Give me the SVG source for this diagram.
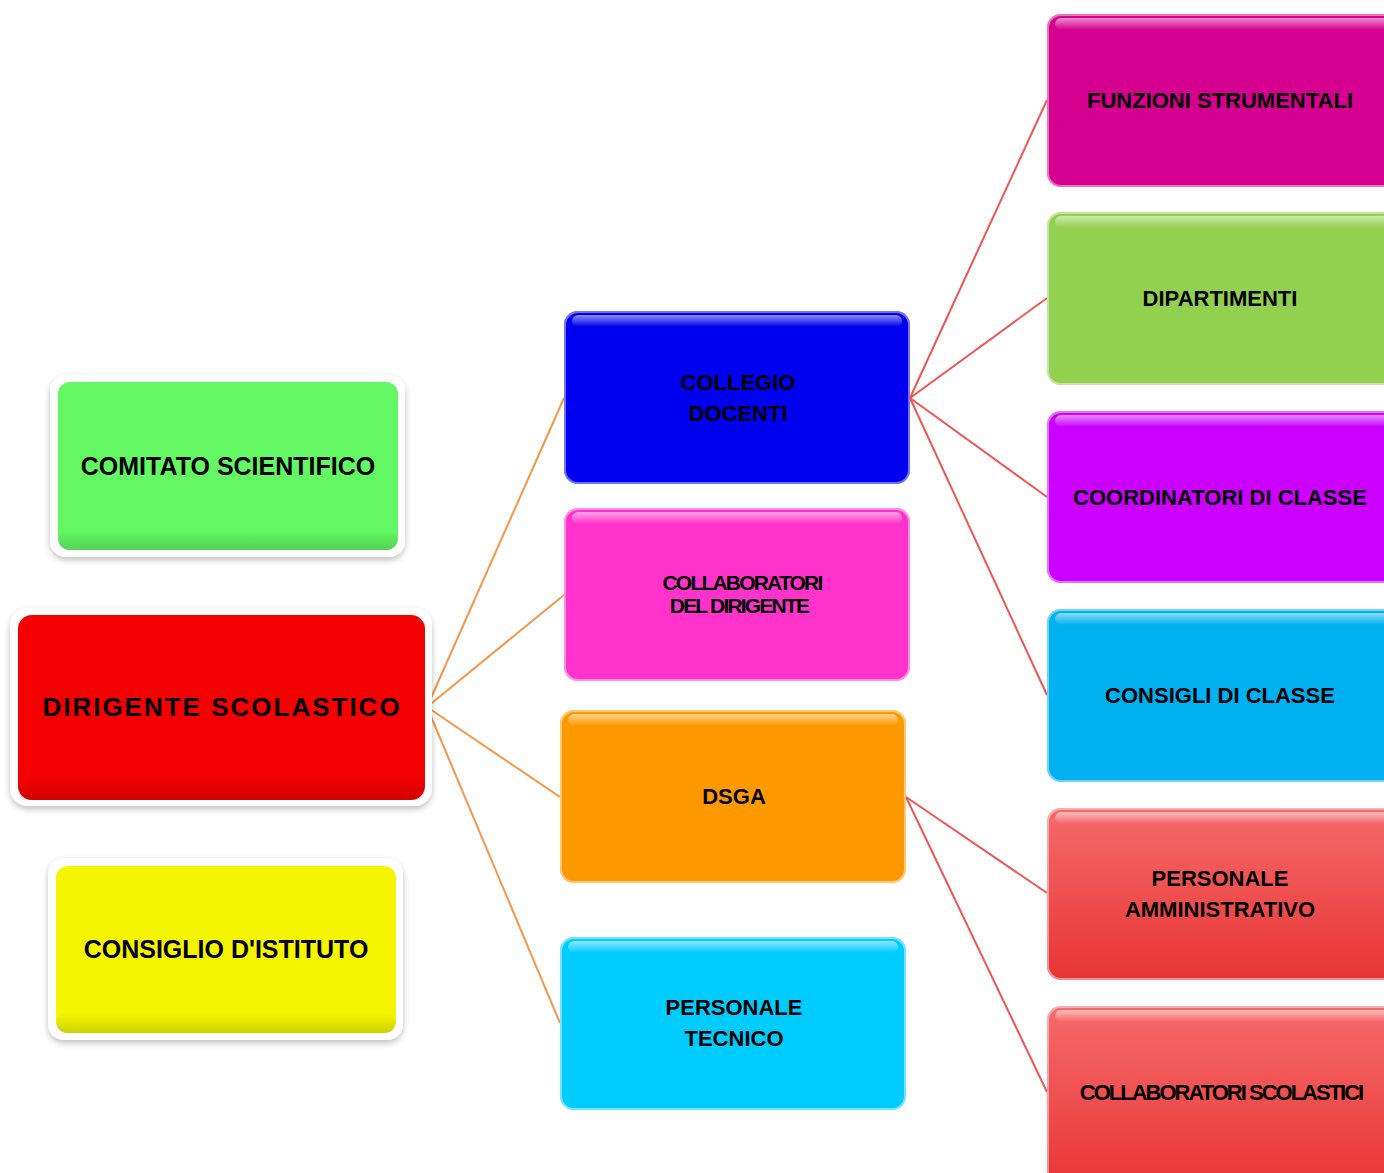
<svg xmlns="http://www.w3.org/2000/svg" width="1384" height="1173" viewBox="0 0 1384 1173">
<defs>
<filter id="sh" x="-10%" y="-10%" width="120%" height="125%"><feDropShadow dx="0" dy="3" stdDeviation="3" flood-color="#000" flood-opacity="0.25"/></filter>
<linearGradient id="gloss" x1="0" y1="0" x2="0" y2="1">
<stop offset="0" stop-color="#fff" stop-opacity="0.55"/>
<stop offset="1" stop-color="#fff" stop-opacity="0"/>
</linearGradient>
<linearGradient id="bot" x1="0" y1="0" x2="0" y2="1">
<stop offset="0" stop-color="#000" stop-opacity="0"/>
<stop offset="1" stop-color="#000" stop-opacity="0.25"/>
</linearGradient>
<linearGradient id="redg" x1="0" y1="0" x2="0" y2="1">
<stop offset="0" stop-color="#F66A6A"/>
<stop offset="1" stop-color="#E83535"/>
</linearGradient>
</defs>
<style>
text{font-family:"Liberation Sans",Arial,sans-serif;font-weight:bold;fill:#000;text-anchor:middle}
.t20{font-size:22px}
.t23{font-size:25px}
.frame{fill:#fff;filter:url(#sh)}
.hl{fill:url(#gloss)}
.edge{fill:none;stroke:#fff;stroke-opacity:0.45;stroke-width:2}
.c1{stroke:#F79646;stroke-width:2;fill:none}
.c2{stroke:#F05555;stroke-width:2;fill:none}
</style>
<rect width="1384" height="1173" fill="#fff"/>

<g id="connectors">
<line class="c1" x1="427" y1="707" x2="564" y2="398"/>
<line class="c1" x1="427" y1="707" x2="564" y2="595"/>
<line class="c1" x1="427" y1="707" x2="560" y2="797"/>
<line class="c1" x1="427" y1="707" x2="560" y2="1023"/>
<line class="c2" x1="910" y1="398" x2="1047" y2="100"/>
<line class="c2" x1="910" y1="398" x2="1047" y2="298"/>
<line class="c2" x1="910" y1="398" x2="1047" y2="497"/>
<line class="c2" x1="910" y1="398" x2="1047" y2="695"/>
<line class="c2" x1="906" y1="797" x2="1047" y2="893"/>
<line class="c2" x1="906" y1="797" x2="1047" y2="1092"/>
</g>

<g id="comitato">
<rect class="frame" x="50" y="375" width="355" height="182" rx="16"/>
<rect x="58" y="382" width="340" height="168" rx="12" fill="#63F763"/>
<rect x="58" y="530" width="340" height="20" rx="10" fill="url(#bot)" opacity="0.6"/>
<text class="t23" x="228" y="475">COMITATO SCIENTIFICO</text>
</g>

<g id="dirigente">
<rect class="frame" x="10" y="608" width="422" height="198" rx="18"/>
<rect x="18" y="615" width="407" height="185" rx="14" fill="#F40000"/>
<rect x="18" y="778" width="407" height="22" rx="11" fill="url(#bot)" opacity="0.6"/>
<text x="222" y="716" font-size="26" letter-spacing="2">DIRIGENTE SCOLASTICO</text>
</g>

<g id="consiglio-istituto">
<rect class="frame" x="48" y="858" width="355" height="182" rx="16"/>
<rect x="56" y="866" width="340" height="167" rx="12" fill="#F5F500"/>
<rect x="56" y="1013" width="340" height="20" rx="10" fill="url(#bot)" opacity="0.6"/>
<text class="t23" x="226" y="958">CONSIGLIO D'ISTITUTO</text>
</g>

<g id="collegio">
<rect x="564" y="311" width="346" height="173" rx="14" fill="#0000F0"/>
<rect x="572" y="315" width="330" height="12" rx="6" class="hl"/>
<rect x="565" y="312" width="344" height="171" rx="13" class="edge"/>
<text class="t20" x="738" y="390">COLLEGIO</text>
<text class="t20" x="738" y="421">DOCENTI</text>
</g>

<g id="collaboratori-dirigente">
<rect x="564" y="508" width="346" height="173" rx="14" fill="#FF33CC"/>
<rect x="572" y="512" width="330" height="12" rx="6" class="hl"/>
<rect x="565" y="509" width="344" height="171" rx="13" class="edge"/>
<text x="742" y="590" font-size="21" letter-spacing="-1.8">COLLABORATORI</text>
<text x="739" y="613" font-size="21" letter-spacing="-1.8">DEL DIRIGENTE</text>
</g>

<g id="dsga">
<rect x="560" y="710" width="346" height="173" rx="14" fill="#FF9900"/>
<rect x="568" y="714" width="330" height="12" rx="6" class="hl"/>
<rect x="561" y="711" width="344" height="171" rx="13" class="edge"/>
<text class="t20" x="734" y="804">DSGA</text>
</g>

<g id="personale-tecnico">
<rect x="560" y="937" width="346" height="173" rx="14" fill="#00CCFF"/>
<rect x="568" y="941" width="330" height="12" rx="6" class="hl"/>
<rect x="561" y="938" width="344" height="171" rx="13" class="edge"/>
<text class="t20" x="734" y="1015">PERSONALE</text>
<text class="t20" x="734" y="1046">TECNICO</text>
</g>

<g id="funzioni">
<rect x="1047" y="14" width="350" height="173" rx="14" fill="#D5008F"/>
<rect x="1055" y="18" width="340" height="12" rx="6" class="hl"/>
<rect x="1048" y="15" width="348" height="171" rx="13" class="edge"/>
<text class="t20" x="1220" y="108">FUNZIONI STRUMENTALI</text>
</g>

<g id="dipartimenti">
<rect x="1047" y="212" width="350" height="173" rx="14" fill="#92D050"/>
<rect x="1055" y="216" width="340" height="12" rx="6" class="hl"/>
<rect x="1048" y="213" width="348" height="171" rx="13" class="edge"/>
<text class="t20" x="1220" y="306">DIPARTIMENTI</text>
</g>

<g id="coordinatori">
<rect x="1047" y="411" width="350" height="172" rx="14" fill="#CC00FF"/>
<rect x="1055" y="415" width="340" height="12" rx="6" class="hl"/>
<rect x="1048" y="412" width="348" height="170" rx="13" class="edge"/>
<text class="t20" x="1220" y="505">COORDINATORI DI CLASSE</text>
</g>

<g id="consigli-classe">
<rect x="1047" y="609" width="350" height="173" rx="14" fill="#00B0F0"/>
<rect x="1055" y="613" width="340" height="12" rx="6" class="hl"/>
<rect x="1048" y="610" width="348" height="171" rx="13" class="edge"/>
<text class="t20" x="1220" y="703">CONSIGLI DI CLASSE</text>
</g>

<g id="personale-amministrativo">
<rect x="1047" y="808" width="350" height="172" rx="14" fill="url(#redg)"/>
<rect x="1055" y="812" width="340" height="12" rx="6" class="hl"/>
<rect x="1048" y="809" width="348" height="170" rx="13" class="edge"/>
<text class="t20" x="1220" y="886">PERSONALE</text>
<text class="t20" x="1220" y="917">AMMINISTRATIVO</text>
</g>

<g id="collaboratori-scolastici">
<rect x="1047" y="1006" width="350" height="185" rx="14" fill="url(#redg)"/>
<rect x="1055" y="1010" width="340" height="12" rx="6" class="hl"/>
<rect x="1048" y="1007" width="348" height="183" rx="13" class="edge"/>
<text x="1221" y="1100" font-size="22" letter-spacing="-2">COLLABORATORI SCOLASTICI</text>
</g>
</svg>
